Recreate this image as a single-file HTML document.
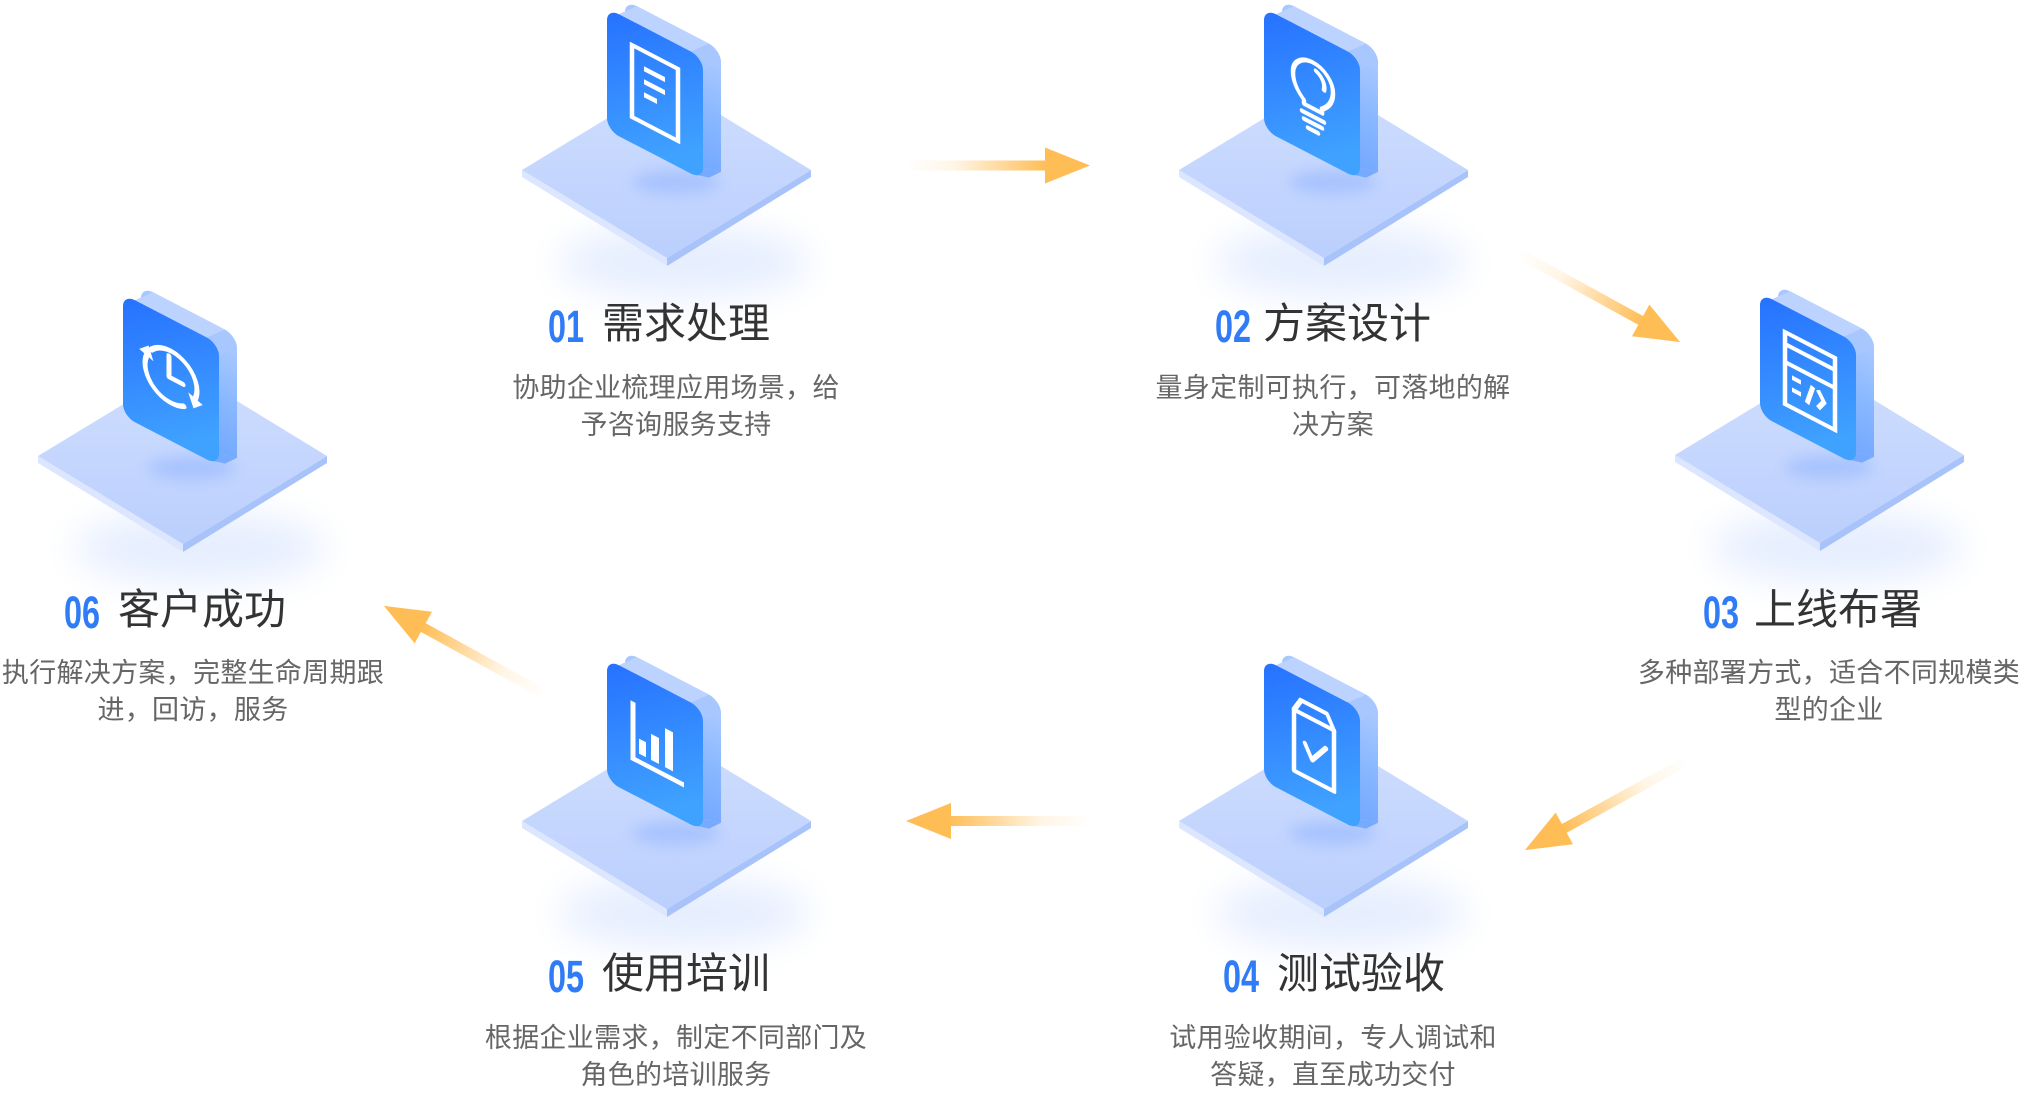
<!DOCTYPE html>
<html>
<head>
<meta charset="utf-8">
<style>
  html, body { margin:0; padding:0; }
  body { width:2022px; height:1090px; overflow:hidden; background:#fff; position:relative;
         font-family:"Liberation Sans","Noto Sans CJK SC",sans-serif; }
  svg.bg { position:absolute; left:0; top:0; }
  .num { position:absolute; font-family:"Liberation Sans",sans-serif; font-size:45px; line-height:45px; font-weight:bold;
         color:#2f7cf6; transform-origin:0 0; transform:scaleX(0.72); white-space:nowrap; }
  .ttl { position:absolute; font-family:"Liberation Sans","Noto Sans CJK SC",sans-serif; font-size:42px;
         line-height:42px; color:#333; white-space:nowrap; }
  .d { position:absolute; width:600px; text-align:center; font-family:"Liberation Sans","Noto Sans CJK SC",sans-serif;
       font-size:27px; line-height:37px; color:#666; white-space:nowrap; letter-spacing:0.3px; }
</style>
</head>
<body>
<svg class="bg" width="2022" height="1090" viewBox="0 0 2022 1090" xmlns="http://www.w3.org/2000/svg">
  <defs>
    <filter id="b1" x="-50%" y="-100%" width="200%" height="300%"><feGaussianBlur stdDeviation="18"/></filter>
    <filter id="b2" x="-50%" y="-100%" width="200%" height="300%"><feGaussianBlur stdDeviation="7"/></filter>
    <linearGradient id="plat" x1="0" y1="0" x2="0" y2="1">
      <stop offset="0" stop-color="#cfdeff"/>
      <stop offset="1" stop-color="#bbcffd"/>
    </linearGradient>
    <linearGradient id="front" x1="0" y1="0" x2="0.6" y2="1">
      <stop offset="0" stop-color="#2670ff"/>
      <stop offset="1" stop-color="#40a2ff"/>
    </linearGradient>
    <linearGradient id="side" x1="0" y1="0" x2="0" y2="1">
      <stop offset="0" stop-color="#aac9ff"/>
      <stop offset="0.5" stop-color="#8ab8ff"/>
      <stop offset="1" stop-color="#74a9ff"/>
    </linearGradient>
    <linearGradient id="arr" gradientUnits="userSpaceOnUse" x1="0" y1="0" x2="142" y2="0">
      <stop offset="0" stop-color="#ffbd55" stop-opacity="0"/>
      <stop offset="0.35" stop-color="#ffbd55" stop-opacity="0.15"/>
      <stop offset="1" stop-color="#ffbd55" stop-opacity="1"/>
    </linearGradient>
    <g id="base">
      <ellipse cx="684" cy="262" rx="125" ry="36" fill="#e6eefe" filter="url(#b1)"/>
      <polygon points="522,170 667,258 667,266 522,177" fill="#dce7ff"/>
      <polygon points="667,258 811,170 811,177 667,266" fill="#a8c2fa"/>
      <polygon points="522,170 667,82 811,170 667,258" fill="url(#plat)"/>
      <ellipse cx="676" cy="182" rx="44" ry="12" fill="#86adff" opacity="0.45" filter="url(#b2)"/>
      <g transform="matrix(1,0.52,0,1,607,8)">
        <rect x="18" y="-17.36" width="96" height="122" rx="12" fill="url(#side)"/>
        <polygon points="12,0 30,-17.36 102,-17.36 84,0" fill="#bcd3ff"/>
        <polygon points="0,12 18,-5.36 30,-17.36 12,0" fill="#bcd3ff"/>
        <polygon points="84,0 102,-17.36 114,-5.36 96,12" fill="#a8c7ff"/>
        <polygon points="96,12 114,-5.36 114,104.64 96,110" fill="url(#side)"/>
        <polygon points="96,110 114,104.64 102,116.64 84,122" fill="#76aaff"/>
        <rect x="0" y="0" width="96" height="122" rx="12" fill="url(#front)"/>
      </g>
    </g>
    <g id="arrow">
      <rect x="0" y="-5" width="141" height="10" fill="url(#arr)"/>
      <polygon points="140,-18 185,0 140,18" fill="#ffbd55"/>
    </g>
  </defs>

  <!-- nodes -->
  <use href="#base" x="0" y="0"/>
  <use href="#base" x="657" y="0"/>
  <use href="#base" x="1153" y="285"/>
  <use href="#base" x="657" y="651"/>
  <use href="#base" x="0" y="651"/>
  <use href="#base" x="-484" y="286"/>

  <!-- icons -->
  <g fill="none" stroke="#fff" stroke-width="4.5">
    <!-- 01 doc -->
    <g transform="translate(0,0) matrix(1,0.52,0,1,607,8)">
      <rect x="25" y="24" width="46" height="72"/>
      <rect x="37" y="39" width="21" height="5" fill="#fff" stroke="none"/>
      <rect x="37" y="52" width="21" height="5" fill="#fff" stroke="none"/>
      <rect x="37" y="65" width="13" height="5" fill="#fff" stroke="none"/>
    </g>
    <!-- 02 bulb -->
    <g transform="translate(657,0) matrix(1,0.52,0,1,607,8)" stroke-linecap="round" stroke-linejoin="round">
      <path d="M40,75 L40,71 C34,66 29,59 29,49 A20,20 0 0 1 69,49 C69,59 64,66 58,71 L58,75 Z"/>
      <path d="M52,36 A13,13 0 0 1 60,51"/>
      <path d="M38,83 H60 M40,90 H58 M44,97 H54"/>
    </g>
    <!-- 03 code window -->
    <g transform="translate(1153,285) matrix(1,0.52,0,1,607,8)">
      <rect x="25" y="26" width="50" height="72"/>
      <path d="M25,38 H75 M25,56 H75"/>
      <path d="M32,68 H41 M32,80 H41"/>
      <path d="M47,86 L53,66"/>
      <path d="M58,67 L64,76 L58,85"/>
    </g>
    <!-- 04 carton check -->
    <g transform="translate(657,651) matrix(1,0.52,0,1,607,8)" stroke-linejoin="round" stroke-linecap="round">
      <path d="M30,96 V35 L37,22 H63 L70,35 V96 Z"/>
      <path d="M30,35 H70"/>
      <path d="M41,63 L48,76 L62,57"/>
    </g>
    <!-- 05 chart -->
    <g transform="translate(0,651) matrix(1,0.52,0,1,607,8)">
      <path d="M26,29 V86 H77" stroke-width="5"/>
      <rect x="32" y="63" width="7" height="15" fill="#fff" stroke="none"/>
      <rect x="44" y="52" width="8" height="26" fill="#fff" stroke="none"/>
      <rect x="58" y="39" width="8" height="39" fill="#fff" stroke="none"/>
    </g>
    <!-- 06 clock sync -->
    <g transform="translate(-484,286) matrix(1,0.52,0,1,607,8)" stroke-linecap="round" stroke-linejoin="round" stroke-width="5">
      <path d="M28.1,41.3 A26,26 0 0 1 72.4,66.9"/>
      <polygon points="79.7,69.5 65.2,64.3 70.5,77.7" fill="#fff" stroke="none"/>
      <path d="M61,80.5 A26,26 0 0 1 23.6,49.1"/>
      <polygon points="16.2,46.4 30.4,51.5 25.6,38.2" fill="#fff" stroke="none"/>
      <path d="M46,38 V59 H60"/>
    </g>
  </g>

  <!-- arrows -->
  <use href="#arrow" transform="translate(905,165.5)"/>
  <use href="#arrow" transform="translate(1518,253) rotate(28.8)"/>
  <use href="#arrow" transform="translate(1687,761) rotate(151.2)"/>
  <use href="#arrow" transform="translate(1091,821) rotate(180)"/>
  <use href="#arrow" transform="translate(546,695) rotate(208.8)"/>
</svg>

<!-- titles -->
<div class="num" style="left:548px;top:304px">01</div><div class="ttl" style="left:602px;top:303px">需求处理</div>
<div class="num" style="left:1215px;top:304px">02</div><div class="ttl" style="left:1263px;top:303px">方案设计</div>
<div class="num" style="left:1703px;top:590px">03</div><div class="ttl" style="left:1754px;top:589px">上线布署</div>
<div class="num" style="left:1223px;top:954px">04</div><div class="ttl" style="left:1277px;top:953px">测试验收</div>
<div class="num" style="left:548px;top:954px">05</div><div class="ttl" style="left:602px;top:953px">使用培训</div>
<div class="num" style="left:64px;top:590px">06</div><div class="ttl" style="left:118px;top:589px">客户成功</div>

<!-- descriptions -->
<div class="d" style="left:376px;top:370px">协助企业梳理应用场景，给</div>
<div class="d" style="left:376px;top:407px">予咨询服务支持</div>

<div class="d" style="left:1033px;top:370px">量身定制可执行，可落地的解</div>
<div class="d" style="left:1033px;top:407px">决方案</div>

<div class="d" style="left:1529px;top:655px">多种部署方式，适合不同规模类</div>
<div class="d" style="left:1529px;top:692px">型的企业</div>

<div class="d" style="left:1033px;top:1020px">试用验收期间，专人调试和</div>
<div class="d" style="left:1033px;top:1057px">答疑，直至成功交付</div>

<div class="d" style="left:376px;top:1020px">根据企业需求，制定不同部门及</div>
<div class="d" style="left:376px;top:1057px">角色的培训服务</div>

<div class="d" style="left:-107px;top:655px">执行解决方案，完整生命周期跟</div>
<div class="d" style="left:-107px;top:692px">进，回访，服务</div>
</body>
</html>
